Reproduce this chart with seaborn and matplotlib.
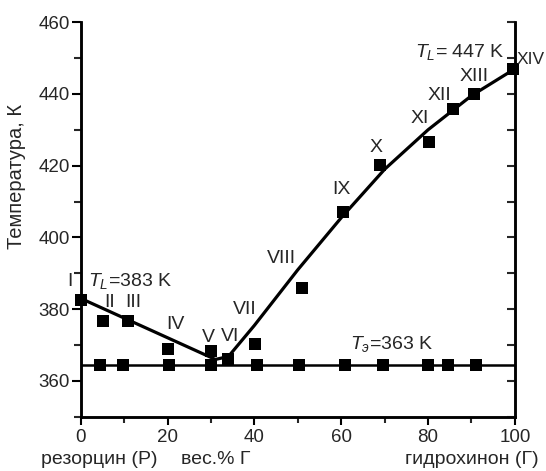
import numpy as np
import pandas as pd
import seaborn as sns
import matplotlib.pyplot as plt
from matplotlib.ticker import MultipleLocator

# liquidus experimental points (wt.% hydroquinone, K)
liq_x = [0, 5.1, 10.8, 20, 30, 33.8, 40.1, 51, 60.4, 69, 80.2, 85.8, 90.6, 99.5]
liq_t = [382.5, 376.8, 376.8, 369, 368.3, 366, 370.3, 385.8, 407, 420.3,
         426.7, 435.8, 440, 447]
liq_names = ["I", "II", "III", "IV", "V", "VI", "VII", "VIII", "IX", "X",
             "XI", "XII", "XIII", "XIV"]

# eutectic points
eut_x = [4.4, 9.7, 20.3, 30.1, 40.5, 50.2, 60.8, 69.6, 80, 84.6, 91]
eut_t = 364.5

# drawn liquidus curve
curve_x = [0, 31, 34, 40, 50, 60, 70, 80, 90, 100]
curve_t = [383, 366, 366.8, 375.5, 391, 405.5, 419, 430, 439.5, 447]

# label positions for roman numerals
lab_x = [-2.5, 6.7, 12, 21.7, 29.5, 34.3, 37.8, 46.2, 60, 68.1, 78.1, 82.6,
         90.6, 100.5]
lab_t = [387.8, 382, 382, 375.8, 372, 372.3, 380, 394.1, 413.3, 425, 433.2,
         439.6, 444.9, 449.7]

sns.set_theme(style="ticks")
plt.rcParams["font.family"] = ["Liberation Sans", "DejaVu Sans"]
plt.rcParams["mathtext.fontset"] = "custom"
plt.rcParams["mathtext.rm"] = "Liberation Sans"
plt.rcParams["mathtext.it"] = "Liberation Sans:italic"

fig = plt.figure(figsize=(5.46, 4.71), dpi=100)
ax = fig.add_axes([0.148, 0.115, 0.795, 0.838])

sns.lineplot(x=curve_x, y=curve_t, sort=False, color="black", linewidth=2.3,
             ax=ax)
ax.axhline(eut_t, color="black", linewidth=1.8, zorder=2)
sns.scatterplot(x=liq_x, y=liq_t, marker="s", s=82, color="black",
                linewidth=0, ax=ax, zorder=3, clip_on=False)
sns.scatterplot(x=eut_x, y=[eut_t] * len(eut_x), marker="s", s=82,
                color="black", linewidth=0, ax=ax, zorder=3)

for nm, x, t in zip(liq_names, lab_x, lab_t):
    ha = "left" if nm == "XIV" else "center"
    fs = 12.5 if nm == "XIV" else 14
    ax.text(x, t, nm, ha=ha, va="center", fontsize=fs, clip_on=False)

ax.text(1.6, 387.8, r"$T_L$=383 K", ha="left", va="center", fontsize=14)
ax.text(97.7, 451.7, r"$T_L$= 447 K", ha="right", va="center", fontsize=14)
ax.text(62, 370.3, r"$T_{э}$=363 K", ha="left", va="center", fontsize=14)

ax.set_xlim(0, 100)
ax.set_ylim(350, 460)
ax.xaxis.set_major_locator(MultipleLocator(20))
ax.xaxis.set_minor_locator(MultipleLocator(10))
ax.yaxis.set_major_locator(MultipleLocator(20))
ax.yaxis.set_minor_locator(MultipleLocator(10))
ax.tick_params(axis="both", which="major", labelsize=13.5, width=1.5,
               color="black", direction="out")
ax.tick_params(axis="x", which="major", length=6, pad=3)
ax.tick_params(axis="x", which="minor", length=4.5, width=1.5)
ax.tick_params(axis="y", which="major", length=6.5, pad=1.5)
ax.tick_params(axis="y", which="minor", length=5, width=1.5)

ax2 = ax.twinx()
ax2.set_ylim(350, 460)
ax2.yaxis.set_major_locator(MultipleLocator(10))
ax2.tick_params(axis="y", direction="in", length=6, width=1.5,
                labelright=False)
for a in (ax, ax2):
    a.spines["top"].set_visible(False)
    for s in ("left", "bottom", "right"):
        a.spines[s].set_linewidth(1.8)
        a.spines[s].set_color("black")

ax.set_xlabel("")
ax.set_ylabel("")
ax.text(-0.148, 0.61, "Температура, К", rotation=90, ha="center",
        va="center", fontsize=14.5, transform=ax.transAxes)
fig.text(99 / 546, 1 - 459.5 / 471, "резорцин (Р)", ha="center",
         va="center", fontsize=14)
fig.text(216 / 546, 1 - 459.5 / 471, "вес.% Г", ha="center", va="center",
         fontsize=14)
fig.text(471.5 / 546, 1 - 459.5 / 471, "гидрохинон (Г)", ha="center",
         va="center", fontsize=14)

fig.savefig("out.png", dpi=100)
